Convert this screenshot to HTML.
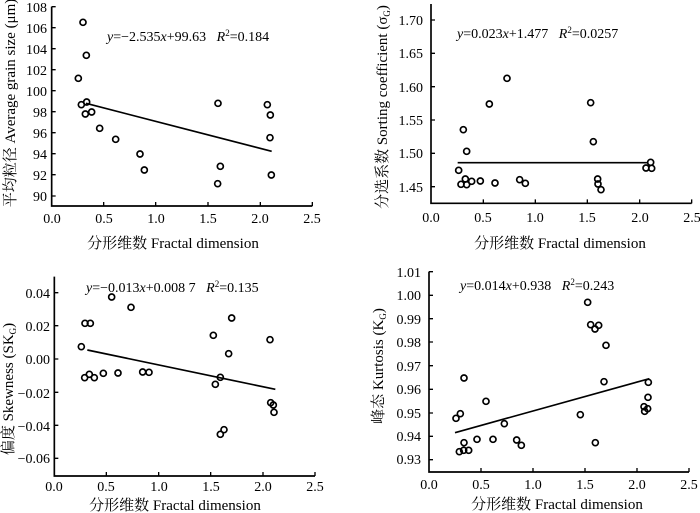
<!DOCTYPE html>
<html><head><meta charset="utf-8"><style>
html,body{margin:0;padding:0;background:#fff;}
text,tspan{font-family:"Liberation Serif","Times New Roman","Noto Serif CJK SC",serif;}
</style></head><body>
<svg width="700" height="513" viewBox="0 0 700 513" xmlns="http://www.w3.org/2000/svg" style="display:block">
<g fill="none" stroke="#000">
<!-- Panel 1 -->
<g transform="scale(0.33333)" stroke-width="4">
<path d="M155,20V618H937" stroke-width="5"/>
<path d="M311,618v-12M467,618v-12M624,618v-12M781,618v-12M937,618v-12"/>
<path d="M155,20h12M155,83h12M155,146h12M155,209h12M155,272h12M155,335h12M155,398h12M155,461h12M155,524h12M155,588h12"/>
<path d="M258,310L815,454" stroke-width="5"/>
<g stroke-width="5">
<circle cx="249" cy="67" r="9"/><circle cx="259" cy="166" r="9"/><circle cx="235" cy="235" r="9"/><circle cx="244" cy="314" r="9"/><circle cx="260" cy="306" r="9"/><circle cx="256" cy="342" r="9"/><circle cx="275" cy="336" r="9"/><circle cx="299" cy="385" r="9"/><circle cx="347" cy="418" r="9"/><circle cx="420" cy="462" r="9"/><circle cx="433" cy="510" r="9"/><circle cx="654" cy="310" r="9"/><circle cx="661" cy="499" r="9"/><circle cx="653" cy="551" r="9"/><circle cx="802" cy="314" r="9"/><circle cx="811" cy="345" r="9"/><circle cx="810" cy="413" r="9"/><circle cx="814" cy="525" r="9"/>
</g></g>
<!-- Panel 2 -->
<g transform="translate(350,0) scale(0.33333)" stroke-width="4">
<path d="M243,12V610H1025" stroke-width="5"/>
<path d="M400,610v-12M556,610v-12M712,610v-12M869,610v-12M1025,610v-12"/>
<path d="M243,60h12M243,160h12M243,260h12M243,360h12M243,460h12M243,560h12"/>
<path d="M323,488H893" stroke-width="5"/>
<g stroke-width="5">
<circle cx="326" cy="511" r="9"/><circle cx="340" cy="389" r="9"/><circle cx="333" cy="553" r="9"/><circle cx="346" cy="537" r="9"/><circle cx="350" cy="554" r="9"/><circle cx="350" cy="454" r="9"/><circle cx="365" cy="544" r="9"/><circle cx="391" cy="543" r="9"/><circle cx="418" cy="312" r="9"/><circle cx="435" cy="549" r="9"/><circle cx="471" cy="235" r="9"/><circle cx="509" cy="539" r="9"/><circle cx="526" cy="550" r="9"/><circle cx="722" cy="308" r="9"/><circle cx="730" cy="425" r="9"/><circle cx="743" cy="537" r="9"/><circle cx="744" cy="552" r="9"/><circle cx="753" cy="569" r="9"/><circle cx="888" cy="504" r="9"/><circle cx="902" cy="487" r="9"/><circle cx="905" cy="505" r="9"/>
</g></g>
<!-- Panel 3 -->
<g transform="translate(0,256) scale(0.33333)" stroke-width="4">
<path d="M163,62V660H945" stroke-width="5"/>
<path d="M319,660v-12M476,660v-12M632,660v-12M789,660v-12M945,660v-12"/>
<path d="M163,110h12M163,209h12M163,309h12M163,409h12M163,508h12M163,607h12"/>
<path d="M262,282L826,400" stroke-width="5"/>
<g stroke-width="5">
<circle cx="244" cy="272" r="9"/><circle cx="255" cy="202" r="9"/><circle cx="271" cy="202" r="9"/><circle cx="254" cy="365" r="9"/><circle cx="268" cy="355" r="9"/><circle cx="283" cy="365" r="9"/><circle cx="310" cy="352" r="9"/><circle cx="335" cy="123" r="9"/><circle cx="354" cy="351" r="9"/><circle cx="393" cy="154" r="9"/><circle cx="428" cy="348" r="9"/><circle cx="447" cy="349" r="9"/><circle cx="640" cy="238" r="9"/><circle cx="646" cy="385" r="9"/><circle cx="661" cy="364" r="9"/><circle cx="686" cy="293" r="9"/><circle cx="695" cy="186" r="9"/><circle cx="661" cy="535" r="9"/><circle cx="672" cy="521" r="9"/><circle cx="810" cy="251" r="9"/><circle cx="812" cy="440" r="9"/><circle cx="820" cy="447" r="9"/><circle cx="822" cy="469" r="9"/>
</g></g>
<!-- Panel 4 -->
<g transform="translate(350,256) scale(0.33333)" stroke-width="4">
<path d="M237,47V648H1017" stroke-width="5"/>
<path d="M393,648v-12M549,648v-12M705,648v-12M861,648v-12M1017,648v-12"/>
<path d="M237,47h12M237,118h12M237,188h12M237,258h12M237,329h12M237,400h12M237,471h12M237,541h12M237,611h12"/>
<path d="M315,530L898,368" stroke-width="5"/>
<g stroke-width="5">
<circle cx="318" cy="487" r="9"/><circle cx="331" cy="473" r="9"/><circle cx="328" cy="587" r="9"/><circle cx="341" cy="583" r="9"/><circle cx="342" cy="560" r="9"/><circle cx="342" cy="366" r="9"/><circle cx="356" cy="583" r="9"/><circle cx="381" cy="550" r="9"/><circle cx="408" cy="436" r="9"/><circle cx="429" cy="550" r="9"/><circle cx="463" cy="503" r="9"/><circle cx="500" cy="552" r="9"/><circle cx="514" cy="568" r="9"/><circle cx="691" cy="476" r="9"/><circle cx="713" cy="139" r="9"/><circle cx="722" cy="206" r="9"/><circle cx="735" cy="219" r="9"/><circle cx="746" cy="208" r="9"/><circle cx="736" cy="560" r="9"/><circle cx="762" cy="377" r="9"/><circle cx="768" cy="268" r="9"/><circle cx="882" cy="452" r="9"/><circle cx="884" cy="466" r="9"/><circle cx="893" cy="458" r="9"/><circle cx="894" cy="424" r="9"/><circle cx="895" cy="379" r="9"/>
</g></g>
</g>

<g font-size="14" fill="#000" font-family="Liberation Serif, Noto Serif CJK SC, serif">
<!-- P1 ticks -->
<g text-anchor="end">
<text x="47" y="12">108</text><text x="47" y="33">106</text><text x="47" y="54">104</text><text x="47" y="75">102</text><text x="47" y="96">100</text><text x="47" y="117">98</text><text x="47" y="138">96</text><text x="47" y="159">94</text><text x="47" y="180">92</text><text x="47" y="201">90</text>
</g>
<g text-anchor="middle">
<text x="52" y="223">0.0</text><text x="104" y="223">0.5</text><text x="156" y="223">1.0</text><text x="208" y="223">1.5</text><text x="260" y="223">2.0</text><text x="312" y="223">2.5</text>
<text x="173" y="248" font-size="15">分形维数 Fractal dimension</text>
</g>
<text x="107" y="41"><tspan font-style="italic">y</tspan>=−2.535<tspan font-style="italic">x</tspan>+99.63&#160;&#160;&#160;<tspan font-style="italic">R</tspan><tspan font-size="9" dy="-5">2</tspan><tspan dy="5">=0.184</tspan></text>
<text transform="translate(15,103) rotate(-90)" text-anchor="middle" font-size="15">平均粒径 Average grain size (μm)</text>

<!-- P2 ticks -->
<g text-anchor="end">
<text x="423" y="25">1.70</text><text x="423" y="58">1.65</text><text x="423" y="92">1.60</text><text x="423" y="125">1.55</text><text x="423" y="158">1.50</text><text x="423" y="192">1.45</text>
</g>
<g text-anchor="middle">
<text x="431" y="222">0.0</text><text x="483" y="222">0.5</text><text x="535" y="222">1.0</text><text x="587" y="222">1.5</text><text x="640" y="222">2.0</text><text x="692" y="222">2.5</text>
<text x="560" y="248" font-size="15">分形维数 Fractal dimension</text>
</g>
<text x="457" y="38"><tspan font-style="italic">y</tspan>=0.023<tspan font-style="italic">x</tspan>+1.477&#160;&#160;&#160;<tspan font-style="italic">R</tspan><tspan font-size="9" dy="-5">2</tspan><tspan dy="5">=0.0257</tspan></text>
<text transform="translate(387,107) rotate(-90)" text-anchor="middle" font-size="15">分选系数 Sorting coefficient (σ<tspan font-size="9" dy="3">G</tspan><tspan dy="-3">)</tspan></text>

<!-- P3 ticks -->
<g text-anchor="end">
<text x="50" y="298">0.04</text><text x="50" y="331">0.02</text><text x="50" y="364">0.00</text><text x="50" y="398">−0.02</text><text x="50" y="431">−0.04</text><text x="50" y="463">−0.06</text>
</g>
<g text-anchor="middle">
<text x="54" y="491">0.0</text><text x="106" y="491">0.5</text><text x="159" y="491">1.0</text><text x="211" y="491">1.5</text><text x="263" y="491">2.0</text><text x="315" y="491">2.5</text>
<text x="175" y="510" font-size="15">分形维数 Fractal dimension</text>
</g>
<text x="86" y="292"><tspan font-style="italic">y</tspan>=−0.013<tspan font-style="italic">x</tspan>+0.008&#160;7&#160;&#160;&#160;<tspan font-style="italic">R</tspan><tspan font-size="9" dy="-5">2</tspan><tspan dy="5">=0.135</tspan></text>
<text transform="translate(13,389) rotate(-90)" text-anchor="middle" font-size="15">偏度 Skewness (SK<tspan font-size="9" dy="3">G</tspan><tspan dy="-3">)</tspan></text>

<!-- P4 ticks -->
<g text-anchor="end">
<text x="421" y="277">1.01</text><text x="421" y="300">1.00</text><text x="421" y="324">0.99</text><text x="421" y="347">0.98</text><text x="421" y="371">0.97</text><text x="421" y="394">0.96</text><text x="421" y="418">0.95</text><text x="421" y="441">0.94</text><text x="421" y="464">0.93</text>
</g>
<g text-anchor="middle">
<text x="429" y="489">0.0</text><text x="481" y="489">0.5</text><text x="533" y="489">1.0</text><text x="585" y="489">1.5</text><text x="637" y="489">2.0</text><text x="689" y="489">2.5</text>
<text x="557" y="509" font-size="15">分形维数 Fractal dimension</text>
</g>
<text x="460" y="290"><tspan font-style="italic">y</tspan>=0.014<tspan font-style="italic">x</tspan>+0.938&#160;&#160;&#160;<tspan font-style="italic">R</tspan><tspan font-size="9" dy="-5">2</tspan><tspan dy="5">=0.243</tspan></text>
<text transform="translate(383,366) rotate(-90)" text-anchor="middle" font-size="15">峰态 Kurtosis (K<tspan font-size="9" dy="3">G</tspan><tspan dy="-3">)</tspan></text>
</g>
</svg>
</body></html>
